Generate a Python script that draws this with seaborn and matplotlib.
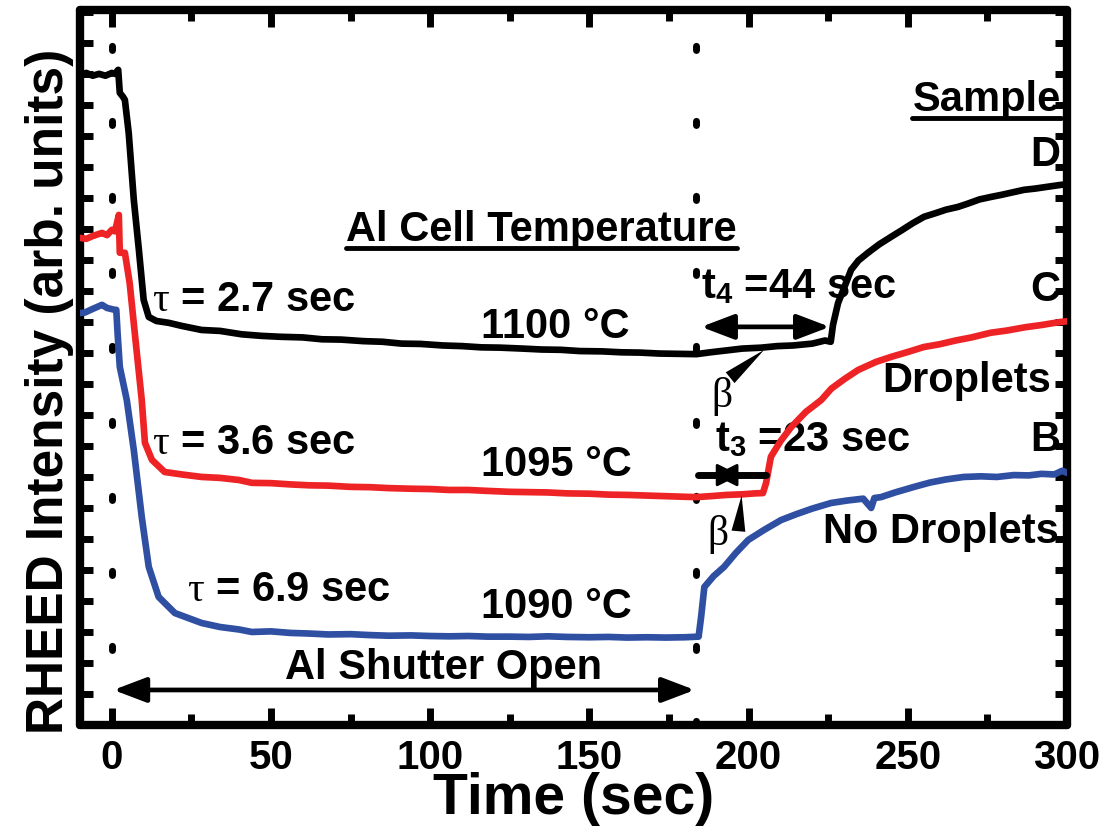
import matplotlib
matplotlib.use("Agg")
import matplotlib.pyplot as plt
from matplotlib.lines import Line2D
from matplotlib.ticker import MultipleLocator
import seaborn as sns
import pandas as pd

# ---- RHEED intensity transients (arb. units) ----
time_d = [-10, -8, -6, -4, -2, 0, 1, 2, 2.5, 3.5, 4.1, 5.3, 6.9, 8.5, 10, 11.6, 14, 17.9,
          22, 28.2, 34, 40.8, 47, 53, 60, 66, 72, 79, 85, 91, 97, 104, 110, 116, 122, 129,
          135, 141, 147, 154, 160, 166, 172, 178, 183.6, 188, 193, 198, 204, 209, 214, 220,
          224, 225.8, 226.5, 228.1, 230, 232.2, 234.5, 237.5, 241, 244.7, 248, 251.5, 255.1,
          258.5, 262, 265.8, 269, 272.5, 276.1, 279.5, 283, 286.5, 290, 294, 298.1, 300]
sample_d = [20.97, 21.03, 20.94, 21.0, 20.94, 21.03, 21.0, 21.13, 20.39, 20.26, 20.16, 19.10,
            16.94, 15.32, 13.71, 13.16, 13.03, 12.97, 12.87, 12.74, 12.71, 12.60, 12.55, 12.52,
            12.50, 12.44, 12.43, 12.38, 12.36, 12.30, 12.29, 12.24, 12.22, 12.18, 12.17, 12.14,
            12.11, 12.10, 12.06, 12.05, 12.02, 12.01, 11.98, 11.97, 11.96, 12.02, 12.08, 12.14,
            12.17, 12.22, 12.24, 12.30, 12.40, 12.36, 12.90, 13.61, 14.10, 14.68, 14.98, 15.23,
            15.50, 15.74, 15.95, 16.18, 16.39, 16.50, 16.62, 16.71, 16.82, 16.95, 17.03, 17.10,
            17.18, 17.26, 17.30, 17.36, 17.42, 17.44]

time_c = [-10, -8, -6, -4, -3.1, -1.5, 0, 1, 2.2, 2.5, 4.1, 5.6, 7.2, 9.4, 10.4, 12.6, 16.6,
          22, 28.2, 34, 40, 44, 50, 56, 62, 68, 75, 81, 87, 94, 100, 106, 112, 118, 125, 131,
          137, 143, 150, 156, 162, 168, 174, 180, 183.6, 188, 193, 198, 202, 204.5, 205.5, 207,
          210, 213.4, 218, 222.8, 226, 230, 234.4, 240, 245, 250, 255, 260, 265, 270, 276,
          281, 287, 292, 298, 300]
sample_c = [15.71, 15.68, 15.77, 15.84, 15.87, 15.80, 15.97, 15.92, 16.45, 15.23, 15.23, 14.26,
            12.65, 10.48, 9.10, 8.55, 8.16, 8.08, 8.00, 7.97, 7.90, 7.81, 7.80, 7.76, 7.73,
            7.72, 7.68, 7.67, 7.64, 7.62, 7.61, 7.58, 7.58, 7.55, 7.52, 7.51, 7.50, 7.47, 7.46,
            7.43, 7.42, 7.40, 7.38, 7.36, 7.35, 7.38, 7.42, 7.44, 7.47, 7.48, 7.81, 8.65, 9.15,
            9.61, 10.10, 10.48, 10.85, 11.15, 11.45, 11.71, 11.88, 12.03, 12.19, 12.28, 12.40,
            12.50, 12.65, 12.72, 12.83, 12.90, 13.00, 13.02]

time_b = [-10, -8.5, -6, -3.1, -1.5, 0.9, 1.4, 1.8, 2.5, 4.7, 6.9, 9.4, 11.6, 14.7, 19.8, 24,
          28.2, 34, 40, 44, 50, 56, 62, 68, 75, 81, 87, 94, 100, 106, 112, 118, 125, 131, 137,
          143, 150, 156, 162, 168, 174, 180, 184.3, 185.1, 186.1, 189, 192.3, 196, 199.9, 205,
          210.2, 215, 220, 225.9, 231, 236, 238.5, 239.5, 241.6, 246, 252, 257, 262, 267.6,
          273, 278, 283.3, 288, 292, 296, 298.5, 300]
sample_b = [13.29, 13.30, 13.42, 13.55, 13.45, 13.39, 13.39, 12.65, 11.55, 10.48, 8.87, 6.71,
            5.10, 4.13, 3.61, 3.45, 3.29, 3.16, 3.08, 3.00, 3.02, 2.97, 2.95, 2.92, 2.93, 2.90,
            2.88, 2.89, 2.87, 2.86, 2.87, 2.85, 2.85, 2.84, 2.86, 2.84, 2.83, 2.84, 2.82, 2.83,
            2.82, 2.83, 2.85, 3.50, 4.45, 4.80, 5.10, 5.55, 5.97, 6.30, 6.61, 6.80, 6.98, 7.16,
            7.24, 7.30, 7.00, 7.32, 7.35, 7.50, 7.68, 7.82, 7.92, 8.00, 8.02, 8.00, 8.06, 8.05,
            8.10, 8.08, 8.20, 8.13]

shutter_open = 0.0
shutter_close = 183.6
t4_start, t4_end = 185.1, 225.5
t3_start, t3_end = 184.2, 205.5

x_ticks = [0, 50, 100, 150, 200, 250, 300]

BLACK = "#000000"
RED = "#EE2326"
BLUE = "#2F4FA2"

sns.set_style("white")
plt.rcParams["font.family"] = ["Liberation Sans", "DejaVu Sans"]
plt.rcParams["text.color"] = BLACK
plt.rcParams["axes.labelcolor"] = BLACK
plt.rcParams["xtick.color"] = BLACK
plt.rcParams["ytick.color"] = BLACK
plt.rcParams["mathtext.fontset"] = "custom"
plt.rcParams["mathtext.rm"] = "Liberation Serif:normal"
plt.rcParams["mathtext.it"] = "Liberation Serif:italic"
plt.rcParams["mathtext.bf"] = "Liberation Sans:bold"

fig = plt.figure(figsize=(11.14, 8.32), dpi=100)
ax = fig.add_axes([0.0718, 0.1286, 0.886, 0.8594])

df = pd.concat([
    pd.DataFrame({"Time": time_d, "Intensity": sample_d, "Sample": "D"}),
    pd.DataFrame({"Time": time_c, "Intensity": sample_c, "Sample": "C"}),
    pd.DataFrame({"Time": time_b, "Intensity": sample_b, "Sample": "B"}),
])
sns.lineplot(data=df, x="Time", y="Intensity", hue="Sample",
             palette={"D": BLACK, "C": RED, "B": BLUE}, estimator=None,
             sort=False, legend=False, ax=ax, zorder=4)
for ln in ax.lines:
    ln.set_linewidth(4.8)
    ln.set_solid_joinstyle("round")
    ln.set_solid_capstyle("round")

# shutter open / close markers
for xv in (shutter_open, shutter_close):
    ax.axvline(xv, color=BLACK, lw=5.0, dashes=(0.6, 10.2),
               dash_capstyle="round", zorder=3)

ax.set_xlim(-10, 300)
ax.set_ylim(0, 23.06)
ax.xaxis.set_major_locator(MultipleLocator(50))
ax.xaxis.set_minor_locator(MultipleLocator(25))
ax.yaxis.set_major_locator(MultipleLocator(1))
ax.set_xticks(x_ticks)

for s in ax.spines.values():
    s.set_linewidth(6)
    s.set_color(BLACK)
    s.set_capstyle("round")
ax.tick_params(axis="both", which="both", direction="in", top=True, right=True,
               left=True, bottom=True, color=BLACK, width=5)
ax.tick_params(axis="x", which="major", length=12, labelsize=29, pad=10)
ax.tick_params(axis="x", which="minor", length=8)
ax.tick_params(axis="y", which="major", length=9, labelleft=False)
for lab in ax.get_xticklabels():
    lab.set_fontweight("bold")

ax.set_xlabel("Time (sec)", fontsize=41, fontweight="bold")
ax.set_ylabel("RHEED Intensity (arb. units)", fontsize=37, fontweight="bold")
ax.xaxis.set_label_coords(0.5, -0.066)
ax.yaxis.set_label_coords(-0.006, 0.466)

FS = 30
txt = dict(fontsize=FS, fontweight="bold", color=BLACK, zorder=3)

ax.text(12.6, 13.71, r"$\mathrm{\tau}$ = 2.7 sec", ha="left", va="center", **txt)
ax.text(12.6, 9.10, r"$\mathrm{\tau}$ = 3.6 sec", ha="left", va="center", **txt)
ax.text(23.5, 4.35, r"$\mathrm{\tau}$ = 6.9 sec", ha="left", va="center", **txt)

ax.text(116, 12.84, "1100 °C", ha="left", va="center", **txt)
ax.text(116, 8.39, "1095 °C", ha="left", va="center", **txt)
ax.text(116, 3.81, "1090 °C", ha="left", va="center", **txt)

cell_title = ax.text(73.7, 15.97, "Al Cell Temperature", ha="left", va="center", **txt)
sample_title = ax.text(298, 20.16, "Sample", ha="right", va="center", **txt)

ax.text(298, 18.39, "D", ha="right", va="center", **txt)
ax.text(298, 14.03, "C", ha="right", va="center", **txt)
ax.text(295, 11.1, "Droplets", ha="right", va="center", **txt)
ax.text(298, 9.19, "B", ha="right", va="center", **txt)
ax.text(297.5, 6.23, "No Droplets", ha="right", va="center", **txt)

ax.text(104.2, 1.84, "Al Shutter Open", ha="center", va="center", **txt)

ax.text(185.1, 14.13, r"$\mathbf{t}_{\mathbf{4}}$ =44 sec", ha="left", va="center", **txt)
ax.text(189.5, 9.19, r"$\mathbf{t}_{\mathbf{3}}$ =23 sec", ha="left", va="center", **txt)

ax.text(191.4, 10.6, r"$\mathrm{\beta}$", ha="center", va="center", fontsize=FS, color=BLACK)
ax.text(190.4, 6.15, r"$\mathrm{\beta}$", ha="center", va="center", fontsize=FS, color=BLACK)

# double-headed arrows
arrow2 = dict(arrowstyle="<|-|>,head_length=1.0,head_width=0.38", lw=3.4, color=BLACK,
              shrinkA=0, shrinkB=0, mutation_scale=20)
ax.annotate("", xy=(shutter_close - 0.5, 1.13), xytext=(shutter_open + 0.5, 1.13),
            arrowprops=arrow2, zorder=5)
ax.annotate("", xy=(t4_end, 12.84), xytext=(t4_start, 12.84), arrowprops=arrow2, zorder=5)
ax.plot([t3_start, t3_end], [8.06, 8.06], color=BLACK, lw=5, solid_capstyle="round", zorder=5)
ax.annotate("", xy=(197.2, 8.06), xytext=(189.3, 8.06),
            arrowprops=dict(arrowstyle="<|-|>,head_length=0.7,head_width=0.35", lw=2,
                            color=BLACK, shrinkA=0, shrinkB=0, mutation_scale=20), zorder=5)

# slope markers
wedge = dict(arrowstyle="wedge,tail_width=0.5,shrink_factor=0.5", color=BLACK, lw=0,
             shrinkA=0, shrinkB=0, mutation_scale=20)
ax.annotate("", xy=(204.9, 12.10), xytext=(194.2, 11.20), arrowprops=wedge, zorder=5)
ax.annotate("", xy=(197.8, 7.40), xytext=(196.8, 6.25), arrowprops=wedge, zorder=5)

# underline the two headings
fig.canvas.draw()
renderer = fig.canvas.get_renderer()
inv = fig.transFigure.inverted()
for t in (cell_title, sample_title):
    bb = t.get_window_extent(renderer)
    (x0, y0), (x1, _) = inv.transform([(bb.x0, bb.y0 + 2), (bb.x1, bb.y0 + 2)])
    fig.add_artist(Line2D([x0, x1], [y0, y0], transform=fig.transFigure,
                          color=BLACK, lw=3.5))

fig.savefig("out.png", dpi=100)
